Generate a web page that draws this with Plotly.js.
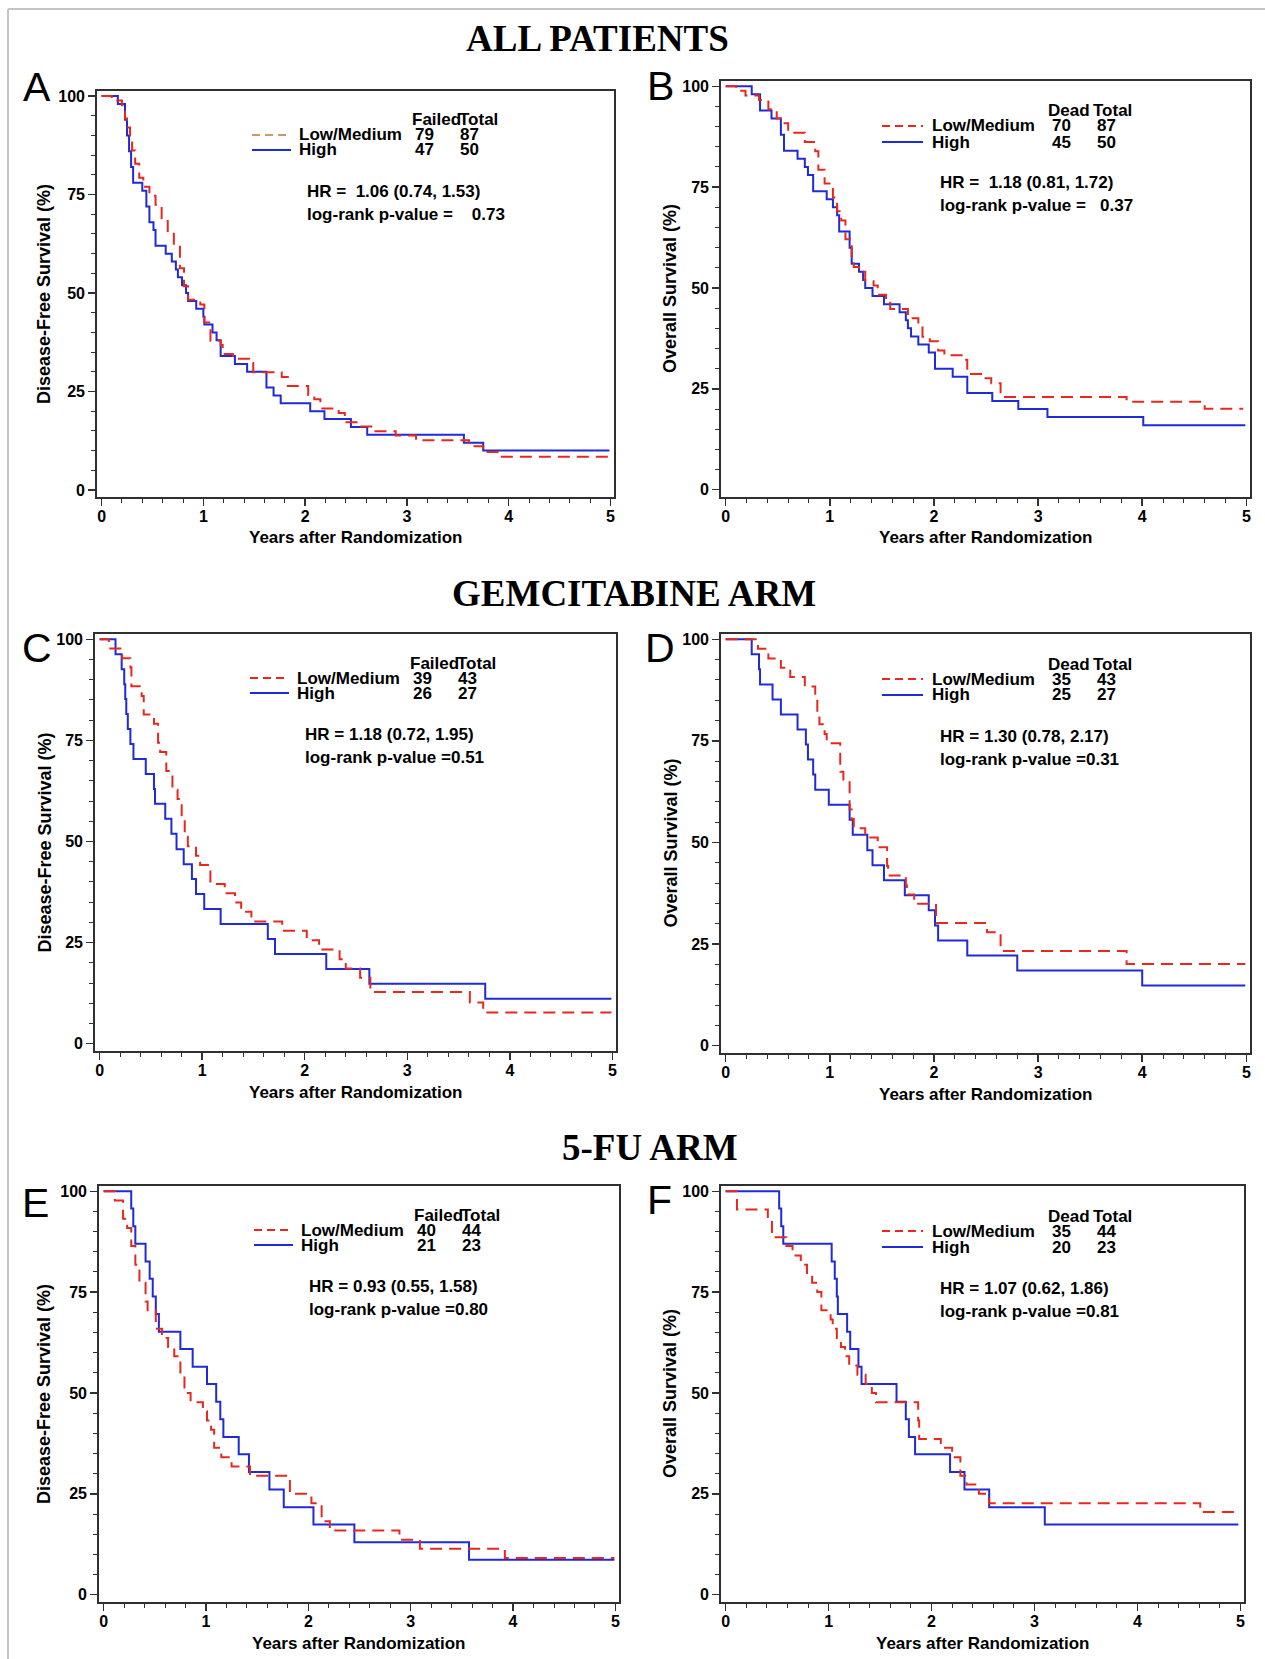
<!DOCTYPE html>
<html>
<head>
<meta charset="utf-8">
<script src="https://cdn.plot.ly/plotly-3.0.1.min.js"></script>
<style>
html,body{margin:0;padding:0;background:#fff;}
#chart{width:1265px;height:1659px;}
</style>
</head>
<body>
<div id="chart"></div>
<script>
// ---------------- DATA ----------------
const sectionTitles = ['ALL PATIENTS', 'GEMCITABINE ARM', '5-FU ARM'];
const panelLetters = ['A', 'B', 'C', 'D', 'E', 'F'];
const yTitles = ['Disease-Free Survival (%)', 'Overall Survival (%)', 'Disease-Free Survival (%)',
                 'Overall Survival (%)', 'Disease-Free Survival (%)', 'Overall Survival (%)'];
const xTitle = 'Years after Randomization';
const xTickVals = [0, 1, 2, 3, 4, 5];
const yTickVals = [0, 25, 50, 75, 100];
const groupNames = ['Low/Medium', 'High'];
const countHeaders = [['Failed', 'Total'], ['Dead', 'Total'], ['Failed', 'Total'],
                      ['Dead', 'Total'], ['Failed', 'Total'], ['Dead', 'Total']];
const lowCounts  = [[79, 87], [70, 87], [39, 43], [35, 43], [40, 44], [35, 44]];
const highCounts = [[47, 50], [45, 50], [26, 27], [25, 27], [21, 23], [20, 23]];
const hrTexts = ['HR =\u00A0 1.06 (0.74, 1.53)', 'HR =\u00A0 1.18 (0.81, 1.72)', 'HR = 1.18 (0.72, 1.95)',
                 'HR = 1.30 (0.78, 2.17)', 'HR = 0.93 (0.55, 1.58)', 'HR = 1.07 (0.62, 1.86)'];
const pTexts = ['log-rank p-value =\u00A0\u00A0\u00A0\u00A00.73', 'log-rank p-value =\u00A0\u00A0\u00A00.37',
                'log-rank p-value =0.51', 'log-rank p-value =0.31',
                'log-rank p-value =0.80', 'log-rank p-value =0.81'];

// Panel A  (disease-free, all patients)
const A_low_t  = [0,0.10,0.20,0.23,0.25,0.28,0.30,0.33,0.37,0.41,0.47,0.53,0.59,0.65,0.71,0.77,0.81,0.85,0.97,1.01,1.07,1.17,1.19,1.29,1.45,1.49,1.77,1.83,2.03,2.09,2.15,2.33,2.39,2.53,2.65,2.89,3.09,3.61,3.75,3.89,4.99];
const A_low_s  = [100,98.9,97.7,94.3,92.0,89.7,86.2,82.8,79.3,77.0,74.7,72.4,69.0,65.5,62.1,56.3,51.7,48.3,47.1,42.5,37.9,36.8,34.5,33.3,32.2,29.9,28.7,26.4,24.1,23.0,20.7,19.5,17.2,16.1,14.9,13.8,12.6,11.1,9.6,8.4,8.4];
const A_high_t = [0,0.16,0.23,0.25,0.27,0.29,0.31,0.40,0.44,0.47,0.51,0.53,0.63,0.69,0.73,0.75,0.79,0.83,0.85,0.93,1.00,1.01,1.09,1.13,1.17,1.31,1.43,1.62,1.69,1.76,2.05,2.19,2.45,2.61,3.56,3.75,4.99];
const A_high_s = [100,98,94,90,86,82,78,76,72,68,66,62,60,58,56,54,52,50,48,46,44,42,40,38,34,32,30,26,24,22,20,18,16,14,12,10,10];

// Panel B  (overall, all patients)
const B_low_t  = [0,0.10,0.19,0.32,0.41,0.49,0.53,0.60,0.76,0.86,0.89,0.95,1.03,1.07,1.11,1.15,1.21,1.23,1.28,1.34,1.42,1.46,1.54,1.58,1.75,1.85,1.89,1.96,2.04,2.10,2.28,2.32,2.47,2.55,2.64,3.85,4.60,4.97];
const B_low_s  = [100,98.9,97.7,96.6,94.3,92.0,90.8,88.5,86.2,83.9,79.3,75.9,72.4,69.0,66.7,62.1,57.5,55.2,54.0,51.7,50.6,48.3,47.1,44.8,42.5,40.2,37.9,36.8,34.5,33.3,32.2,28.7,27.6,26.4,23.0,21.8,20.1,20.1];
const B_high_t = [0,0.25,0.33,0.44,0.53,0.56,0.69,0.76,0.79,0.84,0.97,1.03,1.07,1.09,1.19,1.21,1.28,1.32,1.34,1.41,1.52,1.67,1.73,1.75,1.78,1.85,1.95,2.01,2.18,2.32,2.56,2.81,3.09,4.01,4.99];
const B_high_s = [100,98,94,92,88,84,82,80,78,74,72,70,68,64,60,56,54,52,50,48,46,44,42,40,38,36,34,30,28,24,22,20,18,16,16];

// Panel C  (disease-free, gemcitabine arm)
const C_low_t  = [0,0.09,0.22,0.30,0.31,0.41,0.43,0.53,0.57,0.59,0.65,0.71,0.76,0.80,0.83,0.86,0.94,0.98,1.08,1.22,1.32,1.38,1.48,1.78,2.02,2.14,2.34,2.40,2.54,2.64,3.61,3.74,4.99];
const C_low_s  = [100,97.7,95.3,93.0,88.4,86.0,81.4,79.1,74.4,72.1,67.4,62.8,60.5,55.8,51.2,48.8,46.5,44.2,39.5,37.2,34.9,32.6,30.2,27.9,25.6,23.3,20.9,18.6,16.3,12.8,10.2,7.7,7.7];
const C_high_t = [0,0.155,0.215,0.24,0.25,0.26,0.275,0.30,0.33,0.45,0.53,0.54,0.64,0.70,0.75,0.82,0.90,0.94,1.02,1.18,1.64,1.71,2.21,2.63,3.76,4.99];
const C_high_s = [100,96.3,92.6,88.9,85.2,81.5,77.8,74.1,70.4,66.7,63.0,59.3,55.6,51.9,48.1,44.4,40.7,37.0,33.3,29.6,25.9,22.2,18.5,14.8,11.1,11.1];

// Panel D  (overall, gemcitabine arm)
const D_low_t  = [0,0.31,0.41,0.53,0.62,0.76,0.86,0.88,0.90,0.95,0.97,1.10,1.13,1.19,1.21,1.23,1.34,1.46,1.55,1.56,1.73,1.74,1.81,2.02,2.51,2.64,3.85,4.99];
const D_low_s  = [100,97.7,95.3,93.0,90.7,88.4,86.0,81.4,79.1,76.7,74.4,67.4,65.1,58.1,55.8,53.5,51.2,48.8,44.2,41.9,39.5,37.2,34.9,30.2,27.9,23.3,20.1,20.1];
const D_high_t = [0,0.25,0.32,0.33,0.45,0.53,0.69,0.77,0.79,0.84,0.86,0.99,1.19,1.22,1.36,1.41,1.52,1.72,1.95,2.01,2.04,2.32,2.80,4.00,4.99];
const D_high_s = [100,96.3,92.6,88.9,85.2,81.5,77.8,74.1,70.4,66.7,63.0,59.3,55.6,51.9,48.1,44.4,40.7,37.0,33.3,29.6,25.9,22.2,18.5,14.8,14.8];

// Panel E  (disease-free, 5-FU arm)
const E_low_t  = [0,0.11,0.19,0.23,0.27,0.31,0.35,0.41,0.43,0.51,0.57,0.63,0.69,0.75,0.79,0.85,0.97,1.01,1.05,1.08,1.15,1.25,1.43,1.82,2.03,2.13,2.21,2.89,3.09,3.92,4.99];
const E_low_s  = [100,97.7,93.2,90.9,86.4,81.8,77.3,72.7,70.5,65.9,63.6,61.4,59.1,54.5,50.0,47.7,45.5,43.2,40.9,36.4,34.1,31.8,29.5,25.0,22.7,18.2,15.9,13.6,11.4,9.1,9.1];
const E_high_t = [0,0.27,0.29,0.31,0.41,0.45,0.48,0.51,0.54,0.75,0.87,1.01,1.10,1.14,1.17,1.32,1.42,1.62,1.76,2.05,2.45,3.57,4.99];
const E_high_s = [100,95.7,91.3,87.0,82.6,78.3,73.9,69.6,65.2,60.9,56.5,52.2,47.8,43.5,39.1,34.8,30.4,26.1,21.7,17.4,13.0,8.7,8.7];

// Panel F  (overall, 5-FU arm)
const F_low_t  = [0,0.11,0.41,0.45,0.59,0.65,0.73,0.79,0.84,0.89,0.93,1.02,1.04,1.08,1.12,1.16,1.20,1.28,1.36,1.42,1.46,1.87,1.88,2.09,2.20,2.28,2.34,2.46,2.56,4.61,4.98];
const F_low_s  = [100,95.5,93.2,88.6,86.4,84.1,81.8,79.5,77.3,75.0,70.5,68.2,65.9,63.6,61.4,59.1,56.8,54.5,52.3,50.0,47.7,43.2,38.6,36.4,34.1,29.5,27.3,25.0,22.7,20.5,20.5];
const F_high_t = [0,0.52,0.54,0.56,1.03,1.06,1.08,1.09,1.18,1.21,1.29,1.32,1.66,1.75,1.78,1.84,2.18,2.32,2.56,3.10,4.98];
const F_high_s = [100,95.7,91.3,87.0,82.6,78.3,73.9,69.6,65.2,60.9,56.5,52.2,47.8,43.5,39.1,34.8,30.4,26.1,21.7,17.4,17.4];

const lowSeries  = [[A_low_t, A_low_s], [B_low_t, B_low_s], [C_low_t, C_low_s], [D_low_t, D_low_s], [E_low_t, E_low_s], [F_low_t, F_low_s]];
const highSeries = [[A_high_t, A_high_s], [B_high_t, B_high_s], [C_high_t, C_high_s], [D_high_t, D_high_s], [E_high_t, E_high_s], [F_high_t, F_high_s]];

// ---------------- LAYOUT (pixel frames of each plot box) ----------------
const W = 1265, H = 1659;
// [left, right, top, bottom] in page pixels
const frames = [
  [97, 614, 91, 497],
  [721, 1250, 81, 497],
  [95, 616, 634, 1051],
  [721, 1250, 634, 1053],
  [99, 619, 1186, 1602],
  [721, 1244, 1186, 1602]
];
const letterPos = [[37, 87], [660, 86], [37, 648], [660, 648], [35, 1203], [659, 1200]];
const sectionPos = [[597, 38], [634, 593], [650, 1147]];
const legLeft  = {lx: [155, 194], tx: 201, h1: 314, h2: 361, n1: 317, n2: 362, hrx: 209, yh: 29, yl: 44, yhi: 59, yhr: 100, yp: 123};
const legRight = {lx: [161, 202], tx: 210, h1: 326, h2: 371, n1: 330, n2: 375, hrx: 218, yh: 30, yl: 45, yhi: 61, yhr: 102, yp: 125};

const RED = '#e8281e', BLUE = '#1f2ad8', TAN = '#c99a68', AXC = '#303030';
const SANS = 'Arial, "Liberation Sans", sans-serif';
const SERIF = '"Times New Roman", "Liberation Serif", serif';

const px = x => x / W;
const py = y => 1 - y / H;

const data = [];
const annotations = [];
const shapes = [];
const layout = {
  width: W, height: H,
  margin: {l: 0, r: 0, t: 0, b: 0},
  paper_bgcolor: '#fff', plot_bgcolor: '#fff',
  showlegend: false,
  font: {family: SANS, color: '#000'}
};

function ann(text, x, y, xanchor, font, extra) {
  const a = {text: text, x: px(x), y: py(y), xref: 'paper', yref: 'paper',
             showarrow: false, xanchor: xanchor, yanchor: 'middle', font: font, borderpad: 0};
  return Object.assign(a, extra || {});
}
const txtFont = {family: SANS, size: 17, color: '#000', weight: 'bold'};
const yTitleFont = {family: SANS, size: 18, color: '#000', weight: 'bold'};

for (let i = 0; i < 6; i++) {
  const k = i + 1;
  const xa = 'xaxis' + (k > 1 ? k : ''), ya = 'yaxis' + (k > 1 ? k : '');
  const xr = 'x' + (k > 1 ? k : ''), yr = 'y' + (k > 1 ? k : '');
  const [L, R, T, B] = frames[i];
  layout[xa] = {
    domain: [px(L), px(R)], anchor: yr, range: [-0.045, 5.035],
    tickvals: xTickVals, ticktext: xTickVals.map(String),
    ticks: 'outside', ticklen: 7, tickwidth: 1.5, tickcolor: AXC, ticklabelstandoff: -3,
    minor: {tick0: 0, dtick: 0.2, ticks: 'outside', ticklen: 4, tickwidth: 1, tickcolor: AXC, showgrid: false},
    showline: true, linecolor: AXC, linewidth: 1.8, mirror: true,
    showgrid: false, zeroline: false,
    tickfont: {family: SANS, size: 16, color: '#000', weight: 'bold'}
  };
  layout[ya] = {
    domain: [py(B), py(T)], anchor: xr, range: [-1.8, 101.3],
    tickvals: yTickVals, ticktext: yTickVals.map(String),
    ticks: 'outside', ticklen: 7, tickwidth: 1.5, tickcolor: AXC,
    minor: {tick0: 0, dtick: 5, ticks: 'outside', ticklen: 4, tickwidth: 1, tickcolor: AXC, showgrid: false},
    showline: true, linecolor: AXC, linewidth: 1.8, mirror: true,
    showgrid: false, zeroline: false,
    tickfont: {family: SANS, size: 16, color: '#000', weight: 'bold'}
  };

  data.push({
    x: highSeries[i][0], y: highSeries[i][1], xaxis: xr, yaxis: yr,
    type: 'scatter', mode: 'lines', line: {shape: 'hv', color: BLUE, width: 2},
    name: groupNames[1], hoverinfo: 'skip'
  });
  data.push({
    x: lowSeries[i][0], y: lowSeries[i][1], xaxis: xr, yaxis: yr,
    type: 'scatter', mode: 'lines', line: {shape: 'hv', color: RED, width: 2, dash: '12px,7px'},
    name: groupNames[0], hoverinfo: 'skip'
  });

  const g = (i % 2 === 0) ? legLeft : legRight;
  // legend sample lines
  shapes.push({type: 'line', xref: 'paper', yref: 'paper',
    x0: px(L + g.lx[0]), x1: px(L + g.lx[1]), y0: py(T + g.yl), y1: py(T + g.yl),
    line: {color: i === 0 ? TAN : RED, width: 2, dash: '8px,5px'}});
  shapes.push({type: 'line', xref: 'paper', yref: 'paper',
    x0: px(L + g.lx[0]), x1: px(L + g.lx[1]), y0: py(T + g.yhi), y1: py(T + g.yhi),
    line: {color: BLUE, width: 2}});
  // legend text table
  annotations.push(ann(countHeaders[i][0], L + g.h1, T + g.yh, 'left', txtFont));
  annotations.push(ann(countHeaders[i][1], L + g.h2, T + g.yh, 'left', txtFont));
  annotations.push(ann(groupNames[0], L + g.tx, T + g.yl, 'left', txtFont));
  annotations.push(ann(groupNames[1], L + g.tx, T + g.yhi, 'left', txtFont));
  annotations.push(ann(String(lowCounts[i][0]), L + g.n1, T + g.yl, 'left', txtFont));
  annotations.push(ann(String(lowCounts[i][1]), L + g.n2, T + g.yl, 'left', txtFont));
  annotations.push(ann(String(highCounts[i][0]), L + g.n1, T + g.yhi, 'left', txtFont));
  annotations.push(ann(String(highCounts[i][1]), L + g.n2, T + g.yhi, 'left', txtFont));
  annotations.push(ann(hrTexts[i], L + g.hrx, T + g.yhr, 'left', txtFont));
  annotations.push(ann(pTexts[i], L + g.hrx, T + g.yp, 'left', txtFont));

  // axis titles
  annotations.push(ann(xTitle, (L + R) / 2, B + 41, 'center', txtFont));
  annotations.push(ann(yTitles[i], (i % 2 === 0) ? 44 : 670, (T + B) / 2, 'center', yTitleFont, {textangle: -90}));

  // panel letter
  annotations.push(ann(panelLetters[i], letterPos[i][0], letterPos[i][1], 'center',
    {family: SANS, size: 41, color: '#000'}));
}

for (let s = 0; s < 3; s++) {
  annotations.push(ann(sectionTitles[s], sectionPos[s][0], sectionPos[s][1], 'center',
    {family: SERIF, size: 37, color: '#000', weight: 'bold'}));
}

// faint outer frame of the figure
shapes.push({type: 'line', xref: 'paper', yref: 'paper', x0: px(8), x1: px(W + 5), y0: py(9), y1: py(9),
  line: {color: '#c4c4c4', width: 2}});
shapes.push({type: 'line', xref: 'paper', yref: 'paper', x0: px(8), x1: px(8), y0: py(9), y1: py(H + 5),
  line: {color: '#c4c4c4', width: 2}});

layout.annotations = annotations;
layout.shapes = shapes;

Plotly.newPlot('chart', data, layout, {displayModeBar: false, staticPlot: true});
</script>
</body>
</html>
